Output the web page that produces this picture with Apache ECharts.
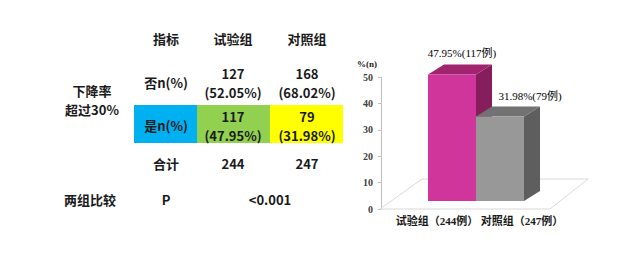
<!DOCTYPE html>
<html><head><meta charset="utf-8">
<script src="https://cdn.jsdelivr.net/npm/echarts@6/dist/echarts.min.js"></script>
<style>html,body{margin:0;padding:0;background:#fff}#c{width:640px;height:271px}</style>
</head><body><div id="c"></div>
<script>
// ---- data ----
const tableHeaders = ['指标', '试验组', '对照组'];
const rowGroupLabel = ['下降率', '超过30%'];
const rowLabels = ['否n(%)', '是n(%)', '合计'];
const trialN = ['127', '117', '244'];
const trialPct = ['(52.05%)', '(47.95%)', ''];
const controlN = ['168', '79', '247'];
const controlPct = ['(68.02%)', '(31.98%)', ''];
const compareLabel = '两组比较';
const pLabel = 'P';
const pValue = '<0.001';

const categories = ['试验组（244例）', '对照组（247例）'];
const percentValues = [47.95, 31.98];
const caseCounts = [117, 79];
const yTicks = [0, 10, 20, 30, 40, 50];

// ---- styles ----
const FONT = '"Noto Sans CJK SC", "Noto Sans", sans-serif';
const SERIF = '"Liberation Serif", "DejaVu Serif", "Noto Sans CJK SC", serif';
const colCenters = [166, 233, 307];
const barColors = [
  { front: '#d0359b', top: '#a0246f', side: '#861d5c' },
  { front: '#989898', top: '#727272', side: '#5e5e5e' }
];
const labelShift = [10, 30];
const DX = 16, DY = -10, LIFT = 8;

function txt(x, y, s, extra) {
  return Object.assign({
    type: 'text', x: x, y: y,
    style: { text: s, font: 'bold 13px ' + FONT, fill: '#1a1a1a', textAlign: 'center', textVerticalAlign: 'middle' }
  }, extra || {});
}

const graphics = [];
// colored cells
graphics.push({ type: 'rect', shape: { x: 134, y: 105, width: 63, height: 38 }, style: { fill: '#00b0f0' } });
graphics.push({ type: 'rect', shape: { x: 197, y: 105, width: 73, height: 38 }, style: { fill: '#92d050' } });
graphics.push({ type: 'rect', shape: { x: 270, y: 105, width: 73, height: 38 }, style: { fill: '#ffff00' } });
// headers
tableHeaders.forEach((h, i) => graphics.push(txt(colCenters[i], 38, h)));
// group label
graphics.push(txt(92, 90, rowGroupLabel[0]));
graphics.push(txt(92, 109, rowGroupLabel[1]));
// rows
const rowY = [82, 125, 163];
rowLabels.forEach((r, i) => {
  graphics.push(txt(colCenters[0], rowY[i], r));
  if (trialPct[i]) {
    graphics.push(txt(colCenters[1], rowY[i] - 9, trialN[i]));
    graphics.push(txt(colCenters[1], rowY[i] + 10, trialPct[i]));
    graphics.push(txt(colCenters[2], rowY[i] - 9, controlN[i]));
    graphics.push(txt(colCenters[2], rowY[i] + 10, controlPct[i]));
  } else {
    graphics.push(txt(colCenters[1], rowY[i], trialN[i]));
    graphics.push(txt(colCenters[2], rowY[i], controlN[i]));
  }
});
graphics.push(txt(90, 199, compareLabel));
graphics.push(txt(colCenters[0], 199, pLabel));
graphics.push(txt(270, 199, pValue));

const chart = echarts.init(document.getElementById('c'), null, { renderer: 'svg' });
chart.setOption({
  animation: false,
  backgroundColor: '#fff',
  grid: { left: 428, right: 116, top: 77, bottom: 62 },
  graphic: graphics,
  xAxis: {
    type: 'category', data: categories,
    axisLine: { show: false }, axisTick: { show: false },
    axisLabel: {
      interval: 0, hideOverlap: false,
      margin: 6,
      formatter: (v, i) => i === 0 ? '{a|' + v + '}' : '{b|' + v + '}',
      rich: {
        a: { padding: [0, 30, 0, 0], fontFamily: SERIF, fontWeight: 'bold', fontSize: 11, color: '#1a1a1a' },
        b: { padding: [0, 0, 0, 44], fontFamily: SERIF, fontWeight: 'bold', fontSize: 11, color: '#1a1a1a' }
      }
    }
  },
  yAxis: {
    type: 'value', min: 0, max: 50, interval: 10, offset: 47,
    name: '%(n)', nameLocation: 'end', nameGap: 9,
    nameTextStyle: { fontFamily: SERIF, fontWeight: 'bold', fontSize: 9, color: '#1a1a1a', align: 'right', padding: [0, 4, 0, 0] },
    axisLine: { show: true, lineStyle: { color: '#bfbfbf', width: 1 } },
    axisTick: { show: true, length: 3, lineStyle: { color: '#bfbfbf' } },
    splitLine: { show: false },
    axisLabel: { fontFamily: SERIF, fontWeight: 'bold', fontSize: 10, color: '#404040', margin: 8 }
  },
  series: [
    {
      type: 'custom', z: 1, silent: true,
      data: [[0, 0]],
      renderItem: function (params, api) {
        const cs = params.coordSys;
        const base = api.coord([0, 0])[1];
        const x0 = cs.x - cs.width / 2, x1 = cs.x + cs.width + 26;
        return {
          type: 'polygon',
          shape: { points: [[x0, base], [x1, base], [x1 + 38, base - 30], [x0 + 42, base - 30]] },
          style: { fill: '#fff', stroke: '#d9d9d9', lineWidth: 1 }
        };
      }
    },
    {
      type: 'custom', z: 2, silent: true,
      data: percentValues.map((v, i) => [i, v]),
      renderItem: function (params, api) {
        const i = api.value(0), v = api.value(1);
        const pt = api.coord([i, v]);
        const base = api.coord([i, 0]);
        const bw = api.size([1, 0])[0];
        const L = pt[0] - bw / 2, R = pt[0] + bw / 2;
        const T = pt[1] - LIFT, B = base[1] - LIFT;
        const c = barColors[i];
        return {
          type: 'group',
          children: [
            { type: 'polygon', shape: { points: [[R, T], [R + DX, T + DY], [R + DX, B + DY], [R, B]] }, style: { fill: c.side } },
            { type: 'polygon', shape: { points: [[L, T], [L + DX, T + DY], [R + DX, T + DY], [R, T]] }, style: { fill: c.top } },
            { type: 'rect', shape: { x: L, y: T, width: bw, height: B - T }, style: { fill: c.front } },
            { type: 'text', x: pt[0] + labelShift[i], y: T + DY - 11,
              style: { text: percentValues[i].toFixed(2) + '%(' + caseCounts[i] + '例)', font: '11px ' + SERIF, fill: '#000', textAlign: 'center', textVerticalAlign: 'middle' } }
          ]
        };
      }
    }
  ]
});
</script></body></html>
